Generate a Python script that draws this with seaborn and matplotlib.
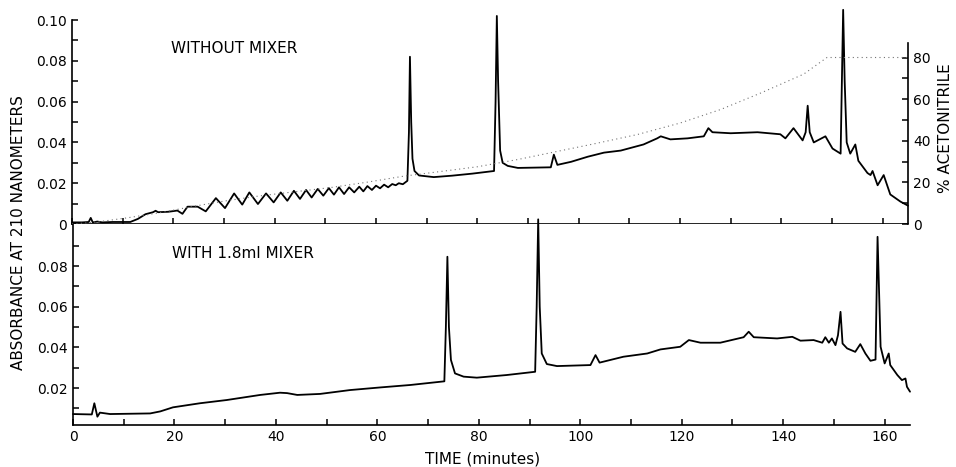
"""
Gradient HPLC baseline with and without a mixer (absorbance at 210 nm).
"""

import matplotlib
matplotlib.use("Agg")
import matplotlib.pyplot as plt
from matplotlib.ticker import MultipleLocator, FixedLocator, FixedFormatter
import seaborn as sns

sns.set_style("ticks")
plt.rcParams["font.family"] = ["DejaVu Sans"]
plt.rcParams["text.color"] = "black"

# --- top trace: without mixer (time in minutes, absorbance) ---
top_early_t = [0, 2, 3.3, 3.7, 4.1, 5, 6, 8, 11.5, 13, 14.5, 16, 16.5, 17, 19,
               20.8, 21.8, 22.8, 24.8, 26.4]
top_early_a = [0.0008, 0.0008, 0.001, 0.003, 0.0008, 0.0012, 0.0008, 0.001, 0.001,
               0.0025, 0.0048, 0.0058, 0.0065, 0.0058, 0.006, 0.0066, 0.005,
               0.0085, 0.0085, 0.0062]

# ripple from the pump, alternating crest / trough
ripple_t = [28.4, 30.2, 32.0, 33.6, 35.0, 36.7, 38.3, 39.8, 41.2, 42.5, 43.8, 45.0,
            46.2, 47.3, 48.5, 49.6, 50.7, 51.7, 52.7, 53.7, 54.7, 55.7, 56.7, 57.5,
            58.3, 59.2, 60.0, 60.8, 61.6, 62.4, 63.2, 63.9, 64.5, 65.3]
ripple_a = [0.0127, 0.0078, 0.015, 0.0095, 0.0155, 0.0098, 0.015, 0.0106, 0.0155,
            0.0114, 0.0163, 0.0123, 0.0167, 0.013, 0.0172, 0.0139, 0.0176, 0.0144,
            0.018, 0.0147, 0.018, 0.0155, 0.0183, 0.016, 0.0186, 0.0167, 0.0188,
            0.0175, 0.0193, 0.018, 0.0196, 0.019, 0.020, 0.0195]

top_late_t = [66.2, 66.5, 66.7, 66.95, 67.2, 67.6, 68.5, 71.4, 75, 79, 83.3, 83.6,
              83.85, 84.1, 84.5, 85.0, 86, 88, 94.5, 95.1, 95.8, 98.5, 101.8, 105,
              108.3, 112.8, 115.5, 116.2, 118.1, 121.5, 124.7, 125.6, 126.4, 130,
              135.3, 139.8, 140.8, 142.4, 144.2, 144.8, 145.2, 145.6, 146.4, 148.7,
              150.1, 151.7, 151.95, 152.2, 152.5, 152.9, 153.6, 154.6, 155.2, 157,
              157.6, 158, 159, 160.2, 161.5, 163.5, 165]
top_late_a = [0.0212, 0.045, 0.082, 0.05, 0.032, 0.026, 0.0238, 0.023, 0.0237,
              0.0247, 0.026, 0.06, 0.102, 0.07, 0.036, 0.030, 0.0285, 0.0275, 0.0278,
              0.034, 0.029, 0.0305, 0.033, 0.035, 0.036, 0.039, 0.042, 0.043, 0.0415,
              0.042, 0.043, 0.047, 0.045, 0.0445, 0.045, 0.044, 0.042, 0.047, 0.041,
              0.045, 0.058, 0.045, 0.040, 0.043, 0.037, 0.0345, 0.07, 0.105, 0.07,
              0.040, 0.0345, 0.039, 0.031, 0.025, 0.024, 0.026, 0.019, 0.024, 0.0145,
              0.011, 0.009]

# --- % acetonitrile gradient (dotted) ---
grad_t = [0, 5, 11, 17.5, 24, 30, 37, 44, 51, 58, 65.5, 72, 80, 88, 95, 103, 111.6,
          120, 128, 136, 144.4, 149, 165]
grad_pct = [0, 1, 3, 5.5, 8.5, 11, 13.5, 15.5, 17.5, 20, 23, 25, 27.5, 31, 34.5,
            38.5, 43, 48.5, 55, 63, 72, 80, 80]

# --- bottom trace: with 1.8 ml mixer ---
bot_t = [0, 3.7, 4.2, 4.8, 5.3, 7.3, 15.2, 17.2, 19.7, 25, 30.3, 36.9, 40.8, 42.2,
         44.2, 48.7, 54.6, 60.6, 66.5, 73.2, 73.5, 73.8, 74.1, 74.5, 75.3, 77, 79.6,
         85.5, 91.1, 91.4, 91.7, 92.0, 92.4, 93.4, 95.4, 102, 103, 103.8, 108.5,
         113.2, 115.8, 119.7, 121.4, 123.7, 127.6, 132.2, 133.2, 134.2, 138.8, 141.8,
         143.4, 146, 147.7, 148.3, 149, 149.6, 150.3, 150.8, 151.3, 151.7, 152.6,
         154.2, 155.2, 156.2, 157.2, 158.2, 158.6, 159.2, 160, 160.8, 161.1, 162.5,
         163.4, 164.1, 164.4, 165]
bot_a = [0.0072, 0.007, 0.0125, 0.0059, 0.0079, 0.0072, 0.0075, 0.0085, 0.0105,
         0.0125, 0.0141, 0.0166, 0.0177, 0.0175, 0.0166, 0.0171, 0.019, 0.0203,
         0.0215, 0.0233, 0.05, 0.0846, 0.05, 0.0338, 0.0272, 0.0256, 0.0251, 0.0264,
         0.028, 0.06, 0.103, 0.06, 0.037, 0.0318, 0.0308, 0.0313, 0.0362, 0.0325,
         0.0354, 0.037, 0.039, 0.0403, 0.0436, 0.0423, 0.0423, 0.045, 0.0477, 0.045,
         0.0444, 0.0452, 0.0433, 0.0436, 0.0423, 0.045, 0.0423, 0.0444, 0.0411,
         0.046, 0.0575, 0.0419, 0.0395, 0.0378, 0.0416, 0.037, 0.0334, 0.034, 0.0944,
         0.0403, 0.0321, 0.037, 0.0313, 0.0264, 0.0239, 0.0247, 0.0206, 0.0182]

top_t = top_early_t + ripple_t + top_late_t
top_a = top_early_a + ripple_a + top_late_a

LW = 1.3
FS = 10

fig = plt.figure(figsize=(9.56, 4.67), dpi=100)
ax_top = fig.add_axes([0.0753, 0.5203, 0.8745, 0.4368])
ax_bot = fig.add_axes([0.0764, 0.0899, 0.8755, 0.4304])
ax_pct = ax_top.twinx()

sns.lineplot(x=top_t, y=top_a, ax=ax_top, color="black", linewidth=LW,
             estimator=None, sort=False)
sns.lineplot(x=grad_t, y=grad_pct, ax=ax_pct, color="0.45", linewidth=0.8,
             linestyle=(0, (1, 3)), estimator=None, sort=False)
sns.lineplot(x=bot_t, y=bot_a, ax=ax_bot, color="black", linewidth=LW,
             estimator=None, sort=False)
for ax in (ax_top, ax_bot):
    for line in ax.lines:
        line.set_clip_on(False)

# Top panel axes
ax_top.set_xlim(0, 165)
ax_top.set_ylim(0, 0.10)
ax_top.spines[["top", "right"]].set_visible(False)
ax_top.xaxis.set_major_locator(MultipleLocator(10))
ax_top.yaxis.set_major_locator(FixedLocator([0, 0.02, 0.04, 0.06, 0.08, 0.10]))
ax_top.yaxis.set_major_formatter(FixedFormatter(["0", "0.02", "0.04", "0.06", "0.08", "0.10"]))
ax_top.yaxis.set_minor_locator(FixedLocator([0.01, 0.03, 0.05, 0.07, 0.09]))
ax_top.tick_params(axis="x", labelbottom=False)

ax_pct.set_ylim(0, 98)
ax_pct.spines[["top", "left", "bottom"]].set_visible(False)
ax_pct.spines["right"].set_bounds(0, 87)
ax_pct.yaxis.set_major_locator(FixedLocator([0, 20, 40, 60, 80]))
ax_pct.yaxis.set_minor_locator(FixedLocator([10, 30, 50, 70]))

# Bottom panel axes
ax_bot.set_xlim(0, 165)
ax_bot.set_ylim(0.0018, 0.1007)
ax_bot.spines[["top", "right"]].set_visible(False)
ax_bot.xaxis.set_major_locator(MultipleLocator(20))
ax_bot.xaxis.set_minor_locator(MultipleLocator(10))
ax_bot.yaxis.set_major_locator(FixedLocator([0.02, 0.04, 0.06, 0.08]))
ax_bot.yaxis.set_major_formatter(FixedFormatter(["0.02", "0.04", "0.06", "0.08"]))
ax_bot.yaxis.set_minor_locator(FixedLocator([0.01, 0.03, 0.05, 0.07, 0.09]))

for ax in (ax_top, ax_bot, ax_pct):
    ax.set_xlabel("")
    ax.set_ylabel("")
    for sp in ax.spines.values():
        sp.set_linewidth(1.2)
        sp.set_color("black")
    ax.tick_params(which="both", direction="in", length=4, width=1.1,
                   labelsize=FS, colors="black")

ax_top.text(19.5, 0.086, "WITHOUT MIXER", va="center", fontsize=11)
ax_bot.text(19.5, 0.0864, "WITH 1.8ml MIXER", va="center", fontsize=11)

fig.text(0.019, 0.503, "ABSORBANCE AT 210 NANOMETERS", rotation=90,
         ha="center", va="center", fontsize=11)
fig.text(0.9885, 0.726, "% ACETONITRILE", rotation=90,
         ha="center", va="center", fontsize=11)
fig.text(0.505, 0.017, "TIME (minutes)", ha="center", va="center", fontsize=11)

plt.savefig("out.png", dpi=100)
plt.close()
